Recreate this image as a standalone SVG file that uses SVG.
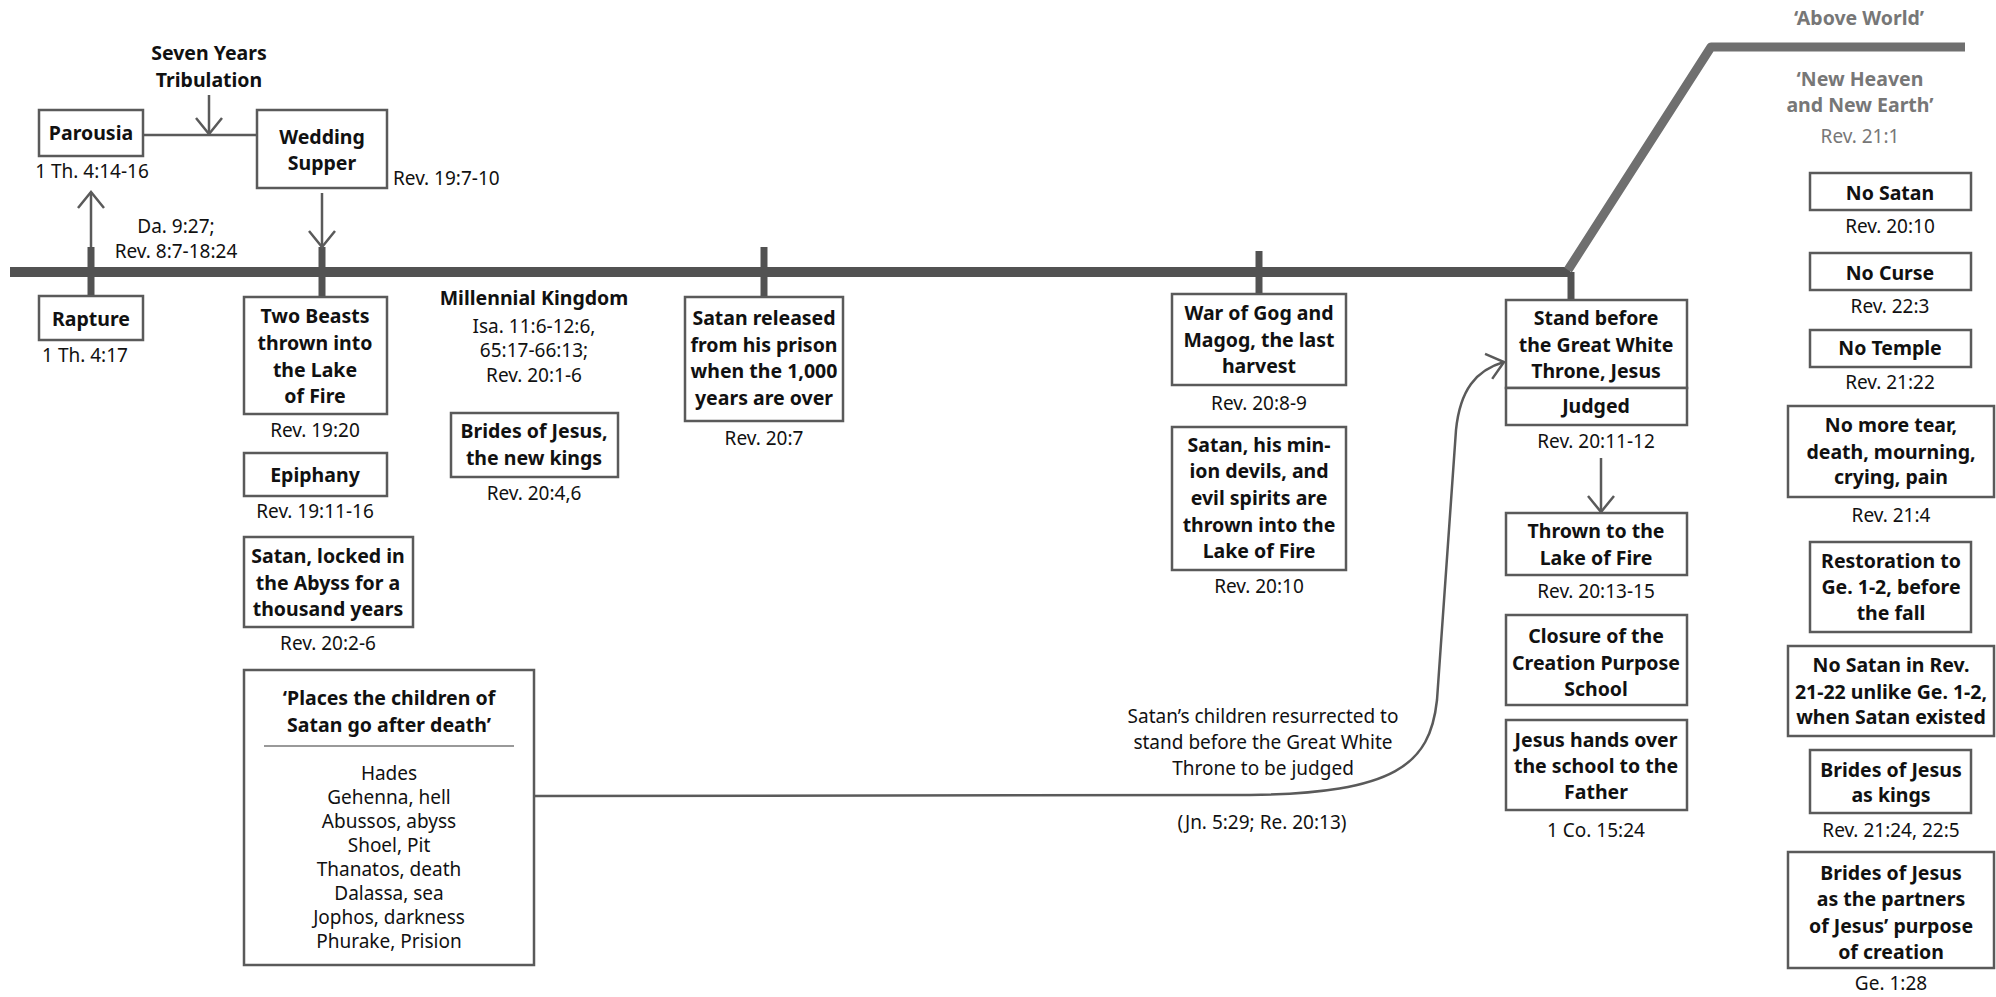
<svg xmlns="http://www.w3.org/2000/svg" width="1996" height="997" viewBox="0 0 1996 997">
  <defs>
    <style>
      text { font-family: "Noto Sans", "Open Sans", "DejaVu Sans", sans-serif; fill: #111; }
      .b { font-weight: 700; font-size: 19.5px; text-anchor: middle; }
      .r { font-weight: 400; font-size: 19px; text-anchor: middle; }
      .g { fill: #777; }
      .box { fill: #fff; stroke: #5a5a5a; stroke-width: 2.5; }
      .tl { fill: none; stroke: #525252; stroke-width: 10; }
      .tl2 { fill: none; stroke: #6f6f6f; stroke-width: 9; stroke-linejoin: round; }
      .tick { stroke: #525252; stroke-width: 7; }
      .con { fill: none; stroke: #5a5a5a; stroke-width: 2.5; }
    </style>
    <marker id="arrow" viewBox="0 0 20 30" refX="18" refY="15" markerWidth="20" markerHeight="30" markerUnits="userSpaceOnUse" orient="auto">
      <path d="M2,2 L18,15 L2,28" fill="none" stroke="#5a5a5a" stroke-width="2.5"/>
    </marker>
  </defs>

  <!-- timeline -->
  <g id="timeline">
    <line class="tl" x1="10" y1="272" x2="1570" y2="272"/>
    <polyline class="tl2" points="1568,270 1711,47 1965,47"/>
    <line class="tick" x1="91" y1="247" x2="91" y2="296"/>
    <line class="tick" x1="322" y1="247" x2="322" y2="297"/>
    <line class="tick" x1="764" y1="247" x2="764" y2="297"/>
    <line class="tick" x1="1259" y1="251" x2="1259" y2="294"/>
    <line class="tick" x1="1571" y1="272" x2="1571" y2="300"/>
  </g>

  <!-- connectors -->
  <g id="connectors">
    <line class="con" x1="143" y1="135" x2="257" y2="135"/>
    <line class="con" x1="209" y1="95" x2="209" y2="134" marker-end="url(#arrow)"/>
    <line class="con" x1="91" y1="247" x2="91" y2="192" marker-end="url(#arrow)"/>
    <line class="con" x1="322" y1="193" x2="322" y2="247" marker-end="url(#arrow)"/>
    <line class="con" x1="1601" y1="458" x2="1601" y2="512" marker-end="url(#arrow)"/>
    <path class="con" d="M534,796 L1250,795 C1395,793 1430,765 1437,700 L1456,430 C1460,390 1476,370 1504,362" marker-end="url(#arrow)"/>
  </g>

  <!-- free labels -->
  <g id="labels">
    <text class="b" x="209" y="60">Seven Years</text>
    <text class="b" x="209" y="87">Tribulation</text>
    <text class="r" x="176" y="233">Da. 9:27;</text>
    <text class="r" x="176" y="258">Rev. 8:7-18:24</text>
    <text class="b" x="534" y="305">Millennial Kingdom</text>
    <text class="r" x="534" y="333">Isa. 11:6-12:6,</text>
    <text class="r" x="534" y="357">65:17-66:13;</text>
    <text class="r" x="534" y="382">Rev. 20:1-6</text>
    <text class="r" x="1263" y="723">Satan’s children resurrected to</text>
    <text class="r" x="1263" y="749">stand before the Great White</text>
    <text class="r" x="1263" y="775">Throne to be judged</text>
    <text class="r" x="1262" y="829">(Jn. 5:29; Re. 20:13)</text>
    <text class="b g" x="1859" y="25">‘Above World’</text>
    <text class="b g" x="1860" y="86">‘New Heaven</text>
    <text class="b g" x="1860" y="112">and New Earth’</text>
    <text class="r g" x="1860" y="143">Rev. 21:1</text>
  </g>

  <g id="parousia">
    <rect class="box" x="39" y="110" width="104" height="46"/>
    <text class="b" x="91" y="140">Parousia</text>
    <text class="r" x="92" y="178">1 Th. 4:14-16</text>
  </g>

  <g id="wedding-supper">
    <rect class="box" x="257" y="110" width="130" height="78"/>
    <text class="b" x="322" y="144">Wedding</text>
    <text class="b" x="322" y="170">Supper</text>
    <text class="r" x="393" y="185" style="text-anchor:start">Rev. 19:7-10</text>
  </g>

  <g id="rapture">
    <rect class="box" x="39" y="296" width="104" height="44"/>
    <text class="b" x="91" y="326">Rapture</text>
    <text class="r" x="85" y="362">1 Th. 4:17</text>
  </g>

  <g id="two-beasts">
    <rect class="box" x="244" y="297" width="143" height="117"/>
    <text class="b" x="315" y="323">Two Beasts</text>
    <text class="b" x="315" y="350">thrown into</text>
    <text class="b" x="315" y="377">the Lake</text>
    <text class="b" x="315" y="403">of Fire</text>
    <text class="r" x="315" y="437">Rev. 19:20</text>
  </g>

  <g id="epiphany">
    <rect class="box" x="244" y="453" width="143" height="43"/>
    <text class="b" x="315" y="482">Epiphany</text>
    <text class="r" x="315" y="518">Rev. 19:11-16</text>
  </g>

  <g id="satan-locked">
    <rect class="box" x="244" y="537" width="169" height="90"/>
    <text class="b" x="328" y="563">Satan, locked in</text>
    <text class="b" x="328" y="590">the Abyss for a</text>
    <text class="b" x="328" y="616">thousand years</text>
    <text class="r" x="328" y="650">Rev. 20:2-6</text>
  </g>

  <g id="places">
    <rect class="box" x="244" y="670" width="290" height="295"/>
    <text class="b" x="389" y="705">‘Places the children of</text>
    <text class="b" x="389" y="732">Satan go after death’</text>
    <line x1="264" y1="746" x2="514" y2="746" stroke="#777" stroke-width="1.5"/>
    <text class="r" x="389" y="780">Hades</text>
    <text class="r" x="389" y="804">Gehenna, hell</text>
    <text class="r" x="389" y="828">Abussos, abyss</text>
    <text class="r" x="389" y="852">Shoel, Pit</text>
    <text class="r" x="389" y="876">Thanatos, death</text>
    <text class="r" x="389" y="900">Dalassa, sea</text>
    <text class="r" x="389" y="924">Jophos, darkness</text>
    <text class="r" x="389" y="948">Phurake, Prision</text>
  </g>

  <g id="brides-new-kings">
    <rect class="box" x="451" y="413" width="167" height="64"/>
    <text class="b" x="534" y="438">Brides of Jesus,</text>
    <text class="b" x="534" y="465">the new kings</text>
    <text class="r" x="534" y="500">Rev. 20:4,6</text>
  </g>

  <g id="satan-released">
    <rect class="box" x="685" y="297" width="158" height="124"/>
    <text class="b" x="764" y="325">Satan released</text>
    <text class="b" x="764" y="352">from his prison</text>
    <text class="b" x="764" y="378">when the 1,000</text>
    <text class="b" x="764" y="405">years are over</text>
    <text class="r" x="764" y="445">Rev. 20:7</text>
  </g>

  <g id="gog-magog">
    <rect class="box" x="1172" y="294" width="174" height="91"/>
    <text class="b" x="1259" y="320">War of Gog and</text>
    <text class="b" x="1259" y="347">Magog, the last</text>
    <text class="b" x="1259" y="373">harvest</text>
    <text class="r" x="1259" y="410">Rev. 20:8-9</text>
  </g>

  <g id="satan-thrown">
    <rect class="box" x="1172" y="427" width="174" height="143"/>
    <text class="b" x="1259" y="452">Satan, his min-</text>
    <text class="b" x="1259" y="478">ion devils, and</text>
    <text class="b" x="1259" y="505">evil spirits are</text>
    <text class="b" x="1259" y="532">thrown into the</text>
    <text class="b" x="1259" y="558">Lake of Fire</text>
    <text class="r" x="1259" y="593">Rev. 20:10</text>
  </g>

  <g id="great-white-throne">
    <rect class="box" x="1506" y="300" width="181" height="88"/>
    <text class="b" x="1596" y="325">Stand before</text>
    <text class="b" x="1596" y="352">the Great White</text>
    <text class="b" x="1596" y="378">Throne, Jesus</text>
    <rect class="box" x="1506" y="388" width="181" height="37"/>
    <text class="b" x="1596" y="413">Judged</text>
    <text class="r" x="1596" y="448">Rev. 20:11-12</text>
  </g>

  <g id="lake-of-fire">
    <rect class="box" x="1506" y="513" width="181" height="62"/>
    <text class="b" x="1596" y="538">Thrown to the</text>
    <text class="b" x="1596" y="565">Lake of Fire</text>
    <text class="r" x="1596" y="598">Rev. 20:13-15</text>
  </g>

  <g id="closure">
    <rect class="box" x="1506" y="615" width="181" height="90"/>
    <text class="b" x="1596" y="643">Closure of the</text>
    <text class="b" x="1596" y="670">Creation Purpose</text>
    <text class="b" x="1596" y="696">School</text>
  </g>

  <g id="hands-over">
    <rect class="box" x="1506" y="720" width="181" height="90"/>
    <text class="b" x="1596" y="747">Jesus hands over</text>
    <text class="b" x="1596" y="773">the school to the</text>
    <text class="b" x="1596" y="799">Father</text>
    <text class="r" x="1596" y="837">1 Co. 15:24</text>
  </g>

  <g id="no-satan">
    <rect class="box" x="1810" y="173" width="161" height="37"/>
    <text class="b" x="1890" y="200">No Satan</text>
    <text class="r" x="1890" y="233">Rev. 20:10</text>
  </g>

  <g id="no-curse">
    <rect class="box" x="1810" y="253" width="161" height="37"/>
    <text class="b" x="1890" y="280">No Curse</text>
    <text class="r" x="1890" y="313">Rev. 22:3</text>
  </g>

  <g id="no-temple">
    <rect class="box" x="1810" y="330" width="161" height="37"/>
    <text class="b" x="1890" y="355">No Temple</text>
    <text class="r" x="1890" y="389">Rev. 21:22</text>
  </g>

  <g id="no-more-tear">
    <rect class="box" x="1788" y="406" width="206" height="91"/>
    <text class="b" x="1891" y="432">No more tear,</text>
    <text class="b" x="1891" y="459">death, mourning,</text>
    <text class="b" x="1891" y="484">crying, pain</text>
    <text class="r" x="1891" y="522">Rev. 21:4</text>
  </g>

  <g id="restoration">
    <rect class="box" x="1810" y="542" width="161" height="90"/>
    <text class="b" x="1891" y="568">Restoration to</text>
    <text class="b" x="1891" y="594">Ge. 1-2, before</text>
    <text class="b" x="1891" y="620">the fall</text>
  </g>

  <g id="no-satan-rev">
    <rect class="box" x="1788" y="646" width="206" height="90"/>
    <text class="b" x="1891" y="672">No Satan in Rev.</text>
    <text class="b" x="1891" y="699">21-22 unlike Ge. 1-2,</text>
    <text class="b" x="1891" y="724">when Satan existed</text>
  </g>

  <g id="brides-kings">
    <rect class="box" x="1810" y="750" width="161" height="63"/>
    <text class="b" x="1891" y="777">Brides of Jesus</text>
    <text class="b" x="1891" y="802">as kings</text>
    <text class="r" x="1891" y="837">Rev. 21:24, 22:5</text>
  </g>

  <g id="brides-partners">
    <rect class="box" x="1788" y="852" width="206" height="116"/>
    <text class="b" x="1891" y="880">Brides of Jesus</text>
    <text class="b" x="1891" y="906">as the partners</text>
    <text class="b" x="1891" y="933">of Jesus’ purpose</text>
    <text class="b" x="1891" y="959">of creation</text>
    <text class="r" x="1891" y="990">Ge. 1:28</text>
  </g>
</svg>
